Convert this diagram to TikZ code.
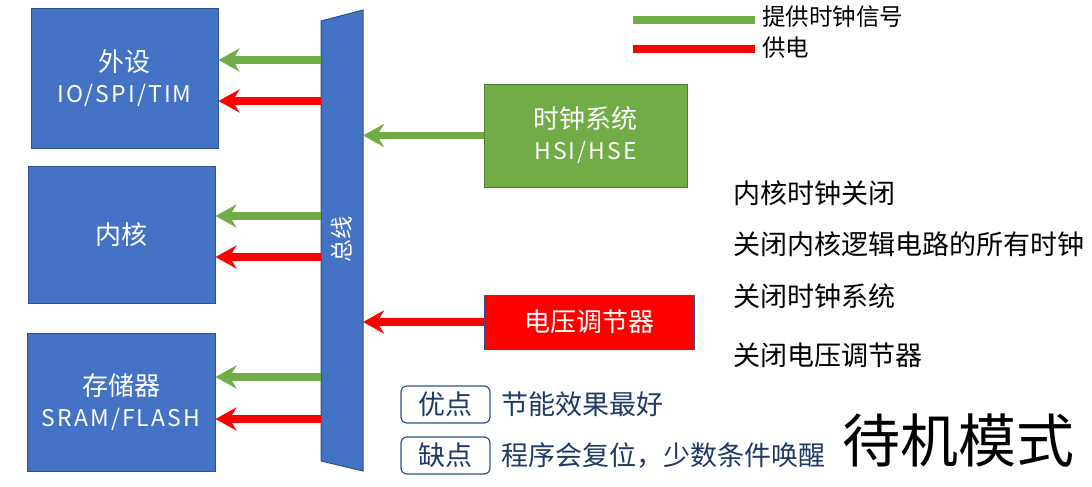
\documentclass[tikz,border=0pt]{standalone}
\usepackage{fontspec}
\setmainfont{Noto Sans CJK SC}
\newfontfamily\boxlatin[LetterSpace=9]{Noto Sans CJK SC}
\usetikzlibrary{arrows.meta}
\definecolor{cblue}{HTML}{4472C4}
\definecolor{cblueD}{HTML}{2F528F}
\definecolor{cgreen}{HTML}{70AD47}
\definecolor{cgreenD}{HTML}{507E32}
\definecolor{cred}{HTML}{FF0000}
\definecolor{cnavy}{HTML}{1F3864}
\tikzset{
  bluebox/.style={draw=cblueD, line width=1pt, fill=cblue, text=white, inner sep=0pt, align=center, font=\fontsize{26}{31}\selectfont},
  greenbox/.style={draw=cgreenD, line width=1pt, fill=cgreen, text=white, inner sep=0pt, align=center, font=\fontsize{26}{31}\selectfont},
  redbox/.style={draw=cblueD, line width=1pt, fill=cred, text=white, inner sep=0pt, align=center, font=\fontsize{26}{31}\selectfont},
  tagbox/.style={draw=cblueD, line width=1.2pt, fill=white, rounded corners=6pt, text=cnavy, inner sep=0pt, font=\fontsize{27}{30}\selectfont},
  garr/.style={draw=cgreen, line width=7.5pt, -{Stealth[length=21pt,width=23pt,inset=7pt]}},
  rarr/.style={draw=cred, line width=7.5pt, -{Stealth[length=21pt,width=23pt,inset=7pt]}},
  note/.style={anchor=west, inner sep=0pt, font=\fontsize{27}{30}\selectfont},
}
\begin{document}
\begin{tikzpicture}[x=1pt,y=-1pt]
\useasboundingbox (0,0) rectangle (1092,487);
% boxes
\node[bluebox, minimum width=187pt, minimum height=139pt] (per) at (124.5,78.5) {外设\\{\boxlatin\fontsize{23}{31}\selectfont IO/SPI/TIM}};
\node[bluebox, minimum width=187pt, minimum height=137pt] (core) at (121.5,234.5) {内核};
\node[bluebox, minimum width=188pt, minimum height=138pt] (mem) at (121,402) {存储器\\{\boxlatin\fontsize{23}{31}\selectfont SRAM/FLASH}};
\node[greenbox, minimum width=203pt, minimum height=103pt] (clk) at (585.5,135.5) {时钟系统\\{\boxlatin\fontsize{23}{31}\selectfont HSI/HSE}};
\node[redbox, minimum width=210pt, minimum height=54pt] (reg) at (589,322) {电压调节器};
% bus
\draw[draw=cblueD, line width=1pt, fill=cblue] (321,21) -- (363,10) -- (363,471) -- (321,461) -- cycle;
\coordinate (busL) at (321,240);
\coordinate (busR) at (363,240);
\node[text=white, rotate=90, inner sep=0pt, font=\fontsize{23}{26}\selectfont] (bustext) at (342,239) {总线};
% arrows bus -> modules
\draw[garr] (busL |- 0,60) -- (per.east |- 0,60);
\draw[rarr] (busL |- 0,101) -- (per.east |- 0,101);
\draw[garr] (busL |- 0,216) -- (core.east |- 0,216);
\draw[rarr] (busL |- 0,257) -- (core.east |- 0,257);
\draw[garr] (busL |- 0,377) -- (mem.east |- 0,377);
\draw[rarr] (busL |- 0,419) -- (mem.east |- 0,419);
% sources -> bus
\draw[garr] (clk.west) -- (busR |- clk.west);
\draw[rarr] (reg.west) -- (busR |- reg.west);
% legend
\coordinate (lg1) at (633,20);
\coordinate (lg1e) at (755,20);
\coordinate (lg2) at (633,49);
\coordinate (lg2e) at (755,49);
\draw[cgreen, line width=8pt] (lg1) -- (lg1e);
\draw[cred, line width=8pt] (lg2) -- (lg2e);
\node[anchor=west, inner sep=0pt, font=\fontsize{23.5}{26}\selectfont] (lt1) at (762,17) {提供时钟信号};
\node[anchor=west, inner sep=0pt, font=\fontsize{23.5}{26}\selectfont] (lt2) at (762,48) {供电};
% notes
\node[note] (n1) at (733,193) {内核时钟关闭};
\node[note] (n2) at (733,244) {关闭内核逻辑电路的所有时钟};
\node[note] (n3) at (733,296) {关闭时钟系统};
\node[note] (n4) at (733,355) {关闭电压调节器};
% pros/cons
\node[tagbox, minimum width=89pt, minimum height=37pt] (pro) at (445.5,404.5) {优点};
\node[tagbox, minimum width=89pt, minimum height=37pt] (con) at (445.5,455.5) {缺点};
\node[note, text=cnavy] (prot) at (501,404) {节能效果最好};
\node[note, text=cnavy] (cont) at (501,456) {程序会复位，少数条件唤醒};
% title
\node[inner sep=0pt, font=\fontsize{58}{62}\selectfont] (title) at (958,441) {待机模式};
\end{tikzpicture}
\end{document}
